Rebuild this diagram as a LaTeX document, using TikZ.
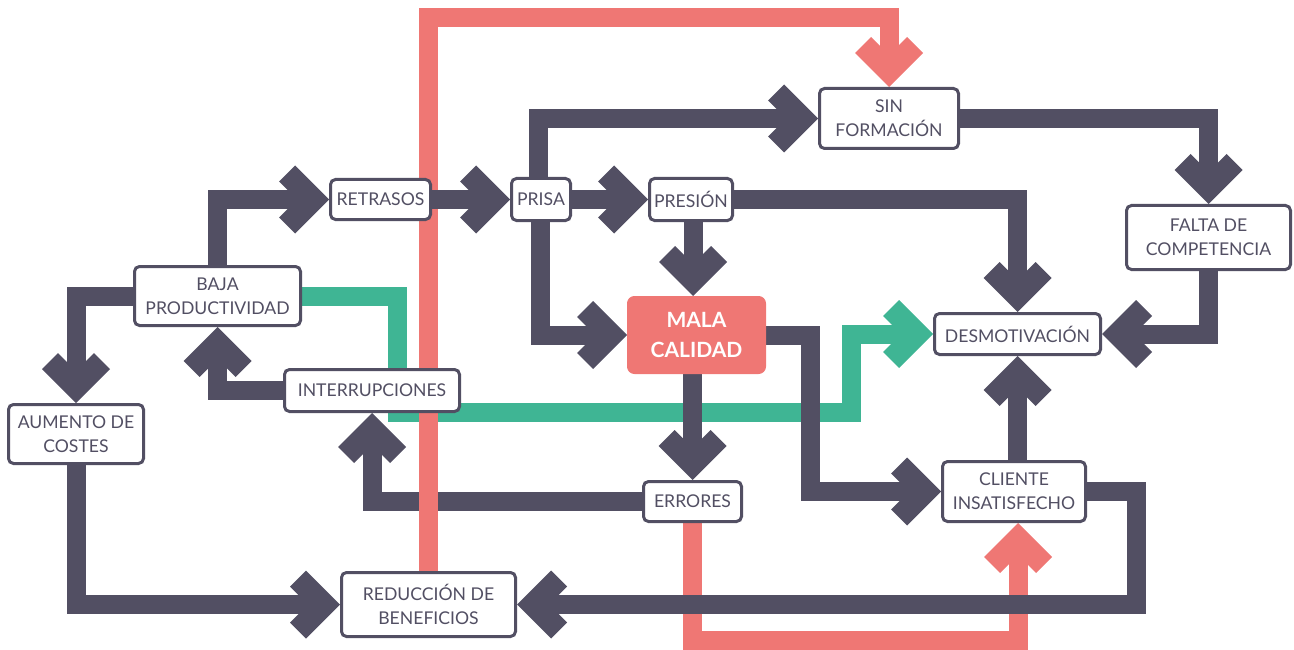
\documentclass[tikz,border=0pt]{standalone}
\usepackage{fontspec}
\setmainfont{Lato}
\usetikzlibrary{arrows.meta,calc}

\definecolor{dk}{HTML}{524F63}
\definecolor{rd}{HTML}{EF7774}
\definecolor{gn}{HTML}{3FB594}

\pgfdeclarelayer{wires}
\pgfsetlayers{wires,main}

% thick chevron head used by every connector
\pgfdeclarearrow{
  name = Chev,
  setup code = {
    \pgfarrowssettipend{0pt}
    \pgfarrowssetlineend{-30pt}
    \pgfarrowssetbackend{-50pt}
    \pgfarrowshullpoint{0pt}{0pt}
    \pgfarrowshullpoint{-34pt}{34pt}
    \pgfarrowshullpoint{-50pt}{18pt}
    \pgfarrowshullpoint{-50pt}{-18pt}
    \pgfarrowshullpoint{-34pt}{-34pt}
  },
  drawing code = {
    \pgfpathmoveto{\pgfqpoint{0pt}{0pt}}
    \pgfpathlineto{\pgfqpoint{-34pt}{34pt}}
    \pgfpathlineto{\pgfqpoint{-50pt}{18pt}}
    \pgfpathlineto{\pgfqpoint{-32pt}{0pt}}
    \pgfpathlineto{\pgfqpoint{-50pt}{-18pt}}
    \pgfpathlineto{\pgfqpoint{-34pt}{-34pt}}
    \pgfpathclose
    \pgfusepathqfill
  }
}

\begin{document}
\begin{tikzpicture}[x=1pt,y=-1pt,
  box/.style={draw=dk, line width=3pt, fill=white, rounded corners=5pt,
    inner sep=0pt, text=dk, align=center,
    font=\fontsize{17.6}{24}\selectfont},
  hot/.style={draw=rd, fill=rd, line width=1pt, rounded corners=7pt,
    inner sep=0pt, text=white, align=center,
    font=\fontsize{21}{29.5}\selectfont\bfseries},
  wire/.style={line width=19pt, -Chev},
  dkwire/.style={wire, draw=dk},
  rdwire/.style={wire, draw=rd},
  gnwire/.style={wire, draw=gn}]

\useasboundingbox (0,0) rectangle (1294,650);

% boxes
\node[box, minimum width=139pt, minimum height=60pt] (sin)   at (889,118.5)   {SIN\\FORMACIÓN};
\node[box, minimum width=164pt, minimum height=64pt] (falta) at (1208.5,237.5) {FALTA DE\\COMPETENCIA};
\node[box, minimum width=166pt, minimum height=41pt] (desm)  at (1017.5,334)  {DESMOTIVACIÓN};
\node[box, minimum width=100pt, minimum height=40pt] (ret)   at (380.5,199.5) {RETRASOS};
\node[box, minimum width=59pt,  minimum height=42pt] (prisa) at (541,199.5)   {PRISA};
\node[box, minimum width=83pt,  minimum height=42pt] (pres)  at (691,199.5)   {PRESIÓN};
\node[hot, minimum width=138pt, minimum height=77pt] (mala)  at (696.5,335)   {MALA\\CALIDAD};
\node[box, minimum width=166pt, minimum height=59pt] (baja)  at (217.5,296)   {BAJA\\PRODUCTIVIDAD};
\node[box, minimum width=175pt, minimum height=42pt] (inter) at (372,390.5)   {INTERRUPCIONES};
\node[box, minimum width=135pt, minimum height=59pt] (aum)   at (76,434)      {AUMENTO DE\\COSTES};
\node[box, minimum width=174pt, minimum height=64pt] (red)   at (428.5,604.5) {REDUCCIÓN DE\\BENEFICIOS};
\node[box, minimum width=98pt,  minimum height=40pt] (err)   at (692.5,501.5) {ERRORES};
\node[box, minimum width=143pt, minimum height=60pt] (cli)   at (1014,491.5)  {CLIENTE\\INSATISFECHO};

% bends of the connectors
\coordinate (eb)  at (1018,640);
\coordinate (gA)  at (397,412);
\coordinate (gB)  at (851,334);
\coordinate (mcx) at (810,0);
\coordinate (rx)  at (1136,0);
\coordinate (rt)  at (889,18);

\begin{pgfonlayer}{wires}
  \draw[rdwire] (err.south) |- (eb) -- ($(cli.south)+(4,0)$);
  \draw[gnwire] (baja.east) -| (gA) -| (gB) -- (desm.west);

  \draw[dkwire] (baja.north) |- (ret.west);
  \draw[dkwire] ($(prisa.north)+(-3,0)$) |- (sin.west);
  \draw[dkwire] ($(prisa.south)+(-1,0)$) |- (mala.west);
  \draw[dkwire] (prisa.east) -- (pres.west);
  \draw[dkwire] ($(pres.south)+(2,0)$) -- ($(pres.south |- mala.north)+(2,0)$);
  \draw[dkwire] (pres.east) -| (desm.north);
  \draw[dkwire] (sin.east) -| (falta.north);
  \draw[dkwire] (falta.south) |- (desm.east);
  \draw[dkwire] (inter.west) -| (baja.south);
  \draw[dkwire] (baja.west) -| (aum.north);
  \draw[dkwire] (aum.south) |- (red.west);
  \draw[dkwire] (err.west) -| (inter.south);
  \draw[dkwire] (err.north |- mala.south) -- (err.north);
  \draw[dkwire] (mala.east) -- (mala.east -| mcx) |- (cli.west);
  \draw[dkwire] (desm.south |- cli.north) -- (desm.south);
  \draw[dkwire] (cli.east) -- (cli.east -| rx) |- (red.east);

  \draw[rdwire] (red.north) |- (rt) -- (sin.north);

  \draw[dkwire] (ret.east) -- (prisa.west);
\end{pgfonlayer}
\end{tikzpicture}
\end{document}
